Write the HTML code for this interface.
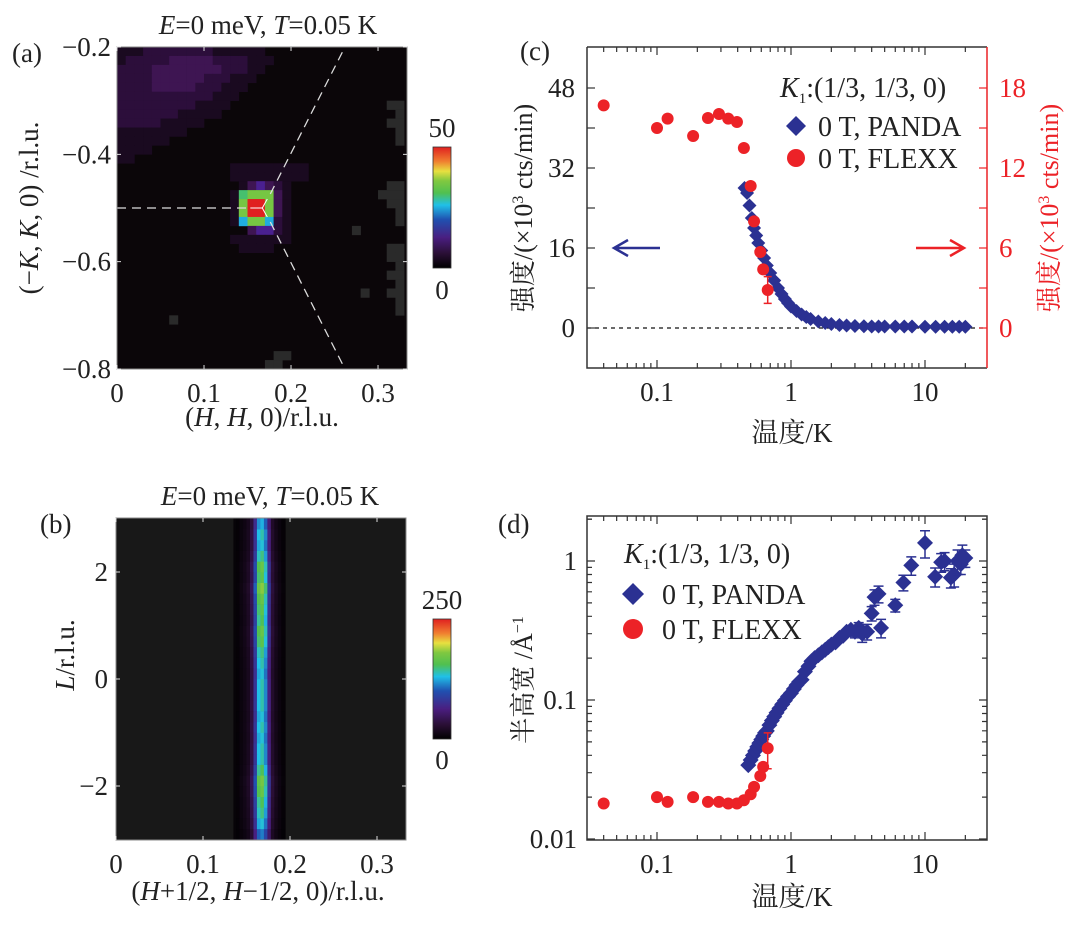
<!DOCTYPE html>
<html><head><meta charset="utf-8">
<style>
html,body{margin:0;padding:0;background:#fff;}
svg{display:block;font-family:"Liberation Serif","Noto Serif CJK SC","Noto Sans CJK SC",serif;}
</style></head>
<body>
<svg id="fig" width="1080" height="926" viewBox="0 0 1080 926" xmlns="http://www.w3.org/2000/svg">
<defs>
<linearGradient id="cbar" x1="0" y1="1" x2="0" y2="0">
<stop offset="0" stop-color="#000000"/><stop offset="0.12" stop-color="#2a0f35"/><stop offset="0.25" stop-color="#4a1e80"/>
<stop offset="0.4" stop-color="#2050b0"/><stop offset="0.52" stop-color="#20c0e8"/><stop offset="0.62" stop-color="#50c050"/>
<stop offset="0.72" stop-color="#80c840"/><stop offset="0.8" stop-color="#e8e040"/><stop offset="0.88" stop-color="#f08030"/><stop offset="1" stop-color="#e02020"/>
</linearGradient>
</defs>
<g id="pa"></g>
<g id="pb"></g>
<g id="pc"></g>
<g id="pd"></g>
</svg>
<script>
// ---------- Panel a data ----------
const aRows = [
"1112222222211111100",
"1222223333322221110",
"2222333333332221100",
"222233333322211100",
"22223333322211100",
"2222222222211100",
"222222222111100",
"22222221111100",
"2222211111000",
"111111110",
"1111110",
"11110",
"110",
"0000000000000111111111",
"0000000000000111111111",
"00000000000000134321",
"00000000000001677731",
"000000000000017AA731",
"000000000000017AA731",
"00000000000001577521",
"000000000000000344210",
"00000000000001111111",
"000000000000001111"
];
const aGrey = [[31,6],[32,6],[32,7],[31,8],[32,8],[32,9],[32,10],[31,15],[32,15],[30,16],[31,16],[32,16],[31,17],[32,17],[32,18],[32,19],[31,22],[32,22],[31,23],[32,23],[32,24],[31,25],[32,25],[32,26],[32,27],[32,28],[32,29],[28,27],[31,27],[6,30],[18,34],[19,34],[17,35],[18,35],[27,20]];
const aXTicks = [0,0.1,0.2,0.3];
const aYTicks = [-0.2,-0.4,-0.6,-0.8];
// ---------- Panel b data ----------
const bOffsets = [-0.027,-0.023,-0.019,-0.015,-0.011,-0.007,-0.003,0.001,0.005,0.009,0.013,0.017,0.021,0.025];
const bProfile = [4,8,12,18,35,80,130,140,115,65,25,14,8,4];
const bLvals = [-2.9,-2.7,-2.5,-2.3,-2.1,-1.9,-1.7,-1.5,-1.3,-1.1,-0.9,-0.7,-0.5,-0.3,-0.1,0.1,0.3,0.5,0.7,0.9,1.1,1.3,1.5,1.7,1.9,2.1,2.3,2.5,2.7,2.9];
const bLmult = [0.8,0.95,1.05,1.1,1.2,1.25,1.1,1.0,1.0,0.95,1.0,0.95,1.0,1.0,1.0,0.95,1.0,1.05,1.15,1.2,1.1,1.15,1.2,1.3,1.15,1.2,1.05,0.95,1.0,0.9];
const bCenter = 0.165;
const bXTicks = [0,0.1,0.2,0.3];
const bYTicks = [2,0,-2];
// ---------- Panel c data ----------
const cRedT = [0.04,0.1,0.12,0.186,0.24,0.29,0.34,0.395,0.445,0.5,0.53,0.59,0.62,0.67];
const cRedI = [16.7,15.0,15.7,14.4,15.75,16.05,15.7,15.45,13.5,10.65,8.0,5.7,4.4,2.85];
const cRedErr = [0,0,0,0,0,0,0,0,0,0,0,0,0,1.0];
const cBlueT = [0.45,0.47,0.49,0.51,0.53,0.55,0.57,0.6,0.63,0.66,0.7,0.75,0.8,0.85,0.9,0.95,1.0,1.1,1.2,1.3,1.4,1.6,1.8,2.0,2.3,2.6,3,3.5,4,4.5,5,6,7,8,10,12,14,16,18,20];
const cBlueI = [28,27,24.5,22,20,18.5,17,15.5,14,12.5,11,9.5,8,6.8,5.8,5,4.3,3.4,2.7,2.2,1.8,1.3,1.0,0.8,0.6,0.5,0.4,0.35,0.3,0.3,0.3,0.3,0.3,0.3,0.25,0.25,0.25,0.25,0.25,0.25];
const cLeftTicks = [0,16,32,48];
const cRightTicks = [0,6,12,18];
const xDecadeLabels = ["0.1","1","10"];
const xDecadeVals = [0.1,1,10];
// ---------- Panel d data ----------
const dRedT = [0.04,0.1,0.12,0.186,0.24,0.29,0.34,0.395,0.445,0.5,0.53,0.59,0.62,0.67];
const dRedW = [0.018,0.020,0.0185,0.020,0.0185,0.0185,0.018,0.018,0.019,0.021,0.0237,0.0284,0.033,0.045];
const dRedErr = [0,0,0,0,0,0,0,0,0,0,0,0,0,0.013];
const dBlueT = [0.48,0.5,0.52,0.54,0.56,0.58,0.6,0.62,0.64,0.66,0.69,0.72,0.75,0.78,0.82,0.86,0.9,0.95,1.0,1.05,1.1,1.15,1.2,1.27,1.35,1.42,1.5,1.6,1.7,1.8,1.9,2.0,2.15,2.3,2.45,2.6,2.8,3.0,3.2,3.4,3.7,4.0,4.2,4.5,4.7,6.0,6.9,7.9,10,11.9,13.2,14,15.6,16.5,17.5,18.5,19,20];
const dBlueW = [0.034,0.037,0.040,0.043,0.046,0.049,0.052,0.055,0.058,0.060,0.066,0.071,0.076,0.081,0.087,0.093,0.099,0.106,0.112,0.12,0.128,0.135,0.14,0.16,0.175,0.19,0.2,0.21,0.22,0.23,0.24,0.25,0.26,0.28,0.29,0.31,0.32,0.31,0.33,0.30,0.31,0.42,0.55,0.58,0.33,0.48,0.70,0.93,1.35,0.77,0.98,1.0,0.76,0.8,1.0,0.95,1.1,1.05];
const dBlueErr = [0,0,0,0,0,0,0,0,0,0,0,0,0,0,0,0,0,0,0,0,0,0,0,0,0,0,0,0,0,0,0,0,0,0,0,0,0,0.03,0.03,0.04,0.04,0.05,0.07,0.08,0.05,0.05,0.09,0.14,0.3,0.12,0.15,0.15,0.12,0.15,0.2,0.15,0.2,0.15];
const dYTicks = [0.01,0.1,1];
const dYLabels = ["0.01","0.1","1"];

const NS="http://www.w3.org/2000/svg";
const FS=27;
function mk(parent,tag,attrs,text){const e=document.createElementNS(NS,tag);for(const k in attrs)e.setAttribute(k,attrs[k]);if(text!==undefined)e.textContent=text;parent.appendChild(e);return e;}
const cmapStops=[[0,[0,0,0]],[0.12,[42,15,53]],[0.25,[74,30,128]],[0.4,[32,80,176]],[0.52,[32,192,232]],[0.62,[80,192,80]],[0.72,[128,200,64]],[0.8,[232,224,64]],[0.88,[240,128,48]],[1,[224,32,32]]];
function cmap(f){f=Math.max(0,Math.min(1,f));for(let i=1;i<cmapStops.length;i++){if(f<=cmapStops[i][0]){const a=cmapStops[i-1],b=cmapStops[i];const t=(f-a[0])/(b[0]-a[0]);const c=a[1].map((v,j)=>Math.round(v+(b[1][j]-v)*t));return `rgb(${c[0]},${c[1]},${c[2]})`;}}return "rgb(224,32,32)";}
function fmt(v){return (v<0?"\u2212":"")+Math.abs(v).toString();}
const lowCols={5:'#1a0a20',10:'#2c0e3b',15:'#3e1552',20:'#4a2090'};

// ===== Panel a =====
(function(){
const g=document.getElementById('pa');
const L=117,R=407,T=47,B=369;
const xa=h=>L+(h-0)*(R-L)/0.3333;
const ya=k=>T+(-0.2-k)*(B-T)/0.6;
const bg=mk(g,'rect',{x:L,y:T,width:R-L,height:B-T,fill:'#0b0609'});

const cw=0.01, ch=0.6/36;
const cells=mk(g,'g',{});

aRows.forEach((row,r)=>{for(let c=0;c<row.length;c++){const ch0=row[c];const v=(ch0==='A'?10:parseInt(ch0,10))*5;if(!v)continue;
 const x0=xa(c*cw),x1=xa((c+1)*cw),y0=ya(-0.2-r*ch),y1=ya(-0.2-(r+1)*ch);
 const fcol=lowCols[v]||cmap(v/50);
 const e=mk(cells,'rect',{x:x0,y:y0,width:Math.min(x1,R)-x0+0.3,height:y1-y0+0.3,fill:fcol});
 }});
aGrey.forEach(([c,r])=>{const x0=xa(c*cw),x1=Math.min(xa((c+1)*cw),R),y0=ya(-0.2-r*ch),y1=ya(-0.2-(r+1)*ch);
 const e=mk(cells,'rect',{x:x0,y:y0,width:x1-x0+0.3,height:y1-y0+0.3,fill:'#2a2a2a'});
 });
const cx=xa(0.167),cy=ya(-0.5);
const d1=mk(g,'path',{d:`M${L} ${cy} L${cx-14} ${cy} M${cx+8} ${cy-14} L${xa(0.262)} ${T} M${cx+8} ${cy+14} L${xa(0.262)} ${B}`,stroke:'#ddd',"stroke-width":1.3,"stroke-dasharray":'9 6',fill:'none'});

const y1=mk(g,'path',{d:`M${cx-12} ${cy} L${cx} ${cy} L${cx+5} ${cy-9} M${cx} ${cy} L${cx+5} ${cy+9}`,stroke:'#fff',"stroke-width":1,fill:'none'});

const fr=mk(g,'rect',{x:L,y:T,width:R-L,height:B-T,fill:'none',stroke:'#888',"stroke-width":1});

aXTicks.forEach(v=>{const x=xa(v);mk(g,'path',{d:`M${x} ${B} V${B-4} M${x} ${T} V${T+4}`,stroke:'#ddd'});
 const t=mk(g,'text',{x:x,y:B+33,"font-size":FS,"text-anchor":'middle',fill:'#222'},v.toString());});
aYTicks.forEach(v=>{const y=ya(v);mk(g,'path',{d:`M${L} ${y} H${L+4} M${R} ${y} H${R-4}`,stroke:'#ddd'});
 const t=mk(g,'text',{x:L-6,y:y+9,"font-size":FS,"text-anchor":'end',fill:'#222'},fmt(v));});
let t=mk(g,'text',{x:268,y:34,"font-size":FS,"text-anchor":'middle',fill:'#222'});t.innerHTML='<tspan font-style="italic">E</tspan>=0 meV, <tspan font-style="italic">T</tspan>=0.05 K';

t=mk(g,'text',{x:12,y:62,"font-size":FS,fill:'#222'},'(a)');
t=mk(g,'text',{x:262,y:426,"font-size":FS,"text-anchor":'middle',fill:'#222'});t.innerHTML='(<tspan font-style="italic">H</tspan>, <tspan font-style="italic">H</tspan>, 0)/r.l.u.';

t=mk(g,'text',{x:0,y:0,"font-size":FS,"text-anchor":'middle',fill:'#222',transform:'translate(38 208) rotate(-90)'});t.innerHTML='(−<tspan font-style="italic">K</tspan>, <tspan font-style="italic">K</tspan>, 0) /r.l.u.';

const cb=mk(g,'rect',{x:433,y:147,width:18,height:121,fill:'url(#cbar)',stroke:'#333',"stroke-width":0.8});
t=mk(g,'text',{x:442,y:137,"font-size":FS,"text-anchor":'middle',fill:'#222'},'50');
t=mk(g,'text',{x:442,y:299,"font-size":FS,"text-anchor":'middle',fill:'#222'},'0');
})();

// ===== Panel b =====
(function(){
const g=document.getElementById('pb');
const L=116,R=406,T=518,B=840;
const xb=h=>L+h*870;
const yb=l=>679-l*53.5;
const bg=mk(g,'rect',{x:L,y:T,width:R-L,height:B-T,fill:'#181818'});
const cells=mk(g,'g',{});
const halo=mk(cells,'rect',{x:xb(bCenter-0.03),y:T,width:xb(bCenter+0.03)-xb(bCenter-0.03),height:B-T,fill:'#070408'});

bLvals.forEach((l,i)=>{bOffsets.forEach((o,j)=>{const v=bProfile[j]*bLmult[i];
 const x0=xb(bCenter+o),x1=xb(bCenter+o+0.004);const y0=Math.max(T,yb(l+0.1)),y1=Math.min(B,yb(l-0.1));
 const e=mk(cells,'rect',{x:x0,y:y0,width:x1-x0+0.3,height:y1-y0+0.3,fill:cmap(v/250)});
 });});
const fr=mk(g,'rect',{x:L,y:T,width:R-L,height:B-T,fill:'none',stroke:'#888'});
bXTicks.forEach(v=>{const x=xb(v);mk(g,'path',{d:`M${x} ${B} V${B-4} M${x} ${T} V${T+4}`,stroke:'#ddd'});
 const t=mk(g,'text',{x:x,y:B+33,"font-size":FS,"text-anchor":'middle',fill:'#222'},v.toString());});
bYTicks.forEach(v=>{const y=yb(v);mk(g,'path',{d:`M${L} ${y} H${L+4} M${R} ${y} H${R-4}`,stroke:'#ddd'});
 const t=mk(g,'text',{x:L-8,y:y+9,"font-size":FS,"text-anchor":'end',fill:'#222'},fmt(v));});
let t=mk(g,'text',{x:270,y:505,"font-size":FS,"text-anchor":'middle',fill:'#222'});t.innerHTML='<tspan font-style="italic">E</tspan>=0 meV, <tspan font-style="italic">T</tspan>=0.05 K';

t=mk(g,'text',{x:40,y:533,"font-size":FS,fill:'#222'},'(b)');
t=mk(g,'text',{x:258,y:900,"font-size":FS,"text-anchor":'middle',fill:'#222'});t.innerHTML='(<tspan font-style="italic">H</tspan>+1/2, <tspan font-style="italic">H</tspan>−1/2, 0)/r.l.u.';

t=mk(g,'text',{x:0,y:0,"font-size":FS,"text-anchor":'middle',fill:'#222',transform:'translate(74 655) rotate(-90)'});t.innerHTML='<tspan font-style="italic">L</tspan>/r.l.u.';

const cb=mk(g,'rect',{x:433,y:619,width:18,height:120,fill:'url(#cbar)',stroke:'#333',"stroke-width":0.8});
t=mk(g,'text',{x:442,y:609,"font-size":FS,"text-anchor":'middle',fill:'#222'},'250');
t=mk(g,'text',{x:442,y:769,"font-size":FS,"text-anchor":'middle',fill:'#222'},'0');
})();

const xl=v=>791+134*Math.log10(v);
function logXAxis(g,T,B){
 for(let d=-2;d<=1;d++){for(let m=1;m<=9;m++){const v=m*Math.pow(10,d);const x=xl(v);if(x<589||x>985)continue;const len=m===1?8:5;
  mk(g,'path',{d:`M${x} ${B} V${B-len} M${x} ${T} V${T+len}`,stroke:'#333',"stroke-width":1.2});}}
 xDecadeVals.forEach((v,i)=>{const t=mk(g,'text',{x:xl(v),y:B+33,"font-size":FS,"text-anchor":'middle',fill:'#222'},xDecadeLabels[i]);});
}
function diamond(g,x,y,s,name){const e=mk(g,'path',{d:`M${x} ${y-s} L${x+s} ${y} L${x} ${y+s} L${x-s} ${y} Z`,fill:'#2b3192'});return e;}
function dot(g,x,y,r,name){const e=mk(g,'circle',{cx:x,cy:y,r:r,fill:'#ec2227'});return e;}

// ===== Panel c =====
(function(){
const g=document.getElementById('pc');
const L=587,R=987,T=47,B=368;
const yL=v=>328-5*v, yR=v=>328-v*80/6;
mk(g,'line',{x1:L,y1:yL(0),x2:R,y2:yL(0),stroke:'#111',"stroke-dasharray":'4 4',"stroke-width":1.2});
cBlueT.forEach((t,i)=>diamond(g,xl(t),yL(cBlueI[i]),7,'panda-point'));
cRedT.forEach((t,i)=>{const x=xl(t),y=yR(cRedI[i]);if(cRedErr[i]){const e=mk(g,'path',{d:`M${x} ${yR(cRedI[i]-cRedErr[i])} V${yR(cRedI[i]+cRedErr[i])} M${x-4} ${yR(cRedI[i]-cRedErr[i])} h8 M${x-4} ${yR(cRedI[i]+cRedErr[i])} h8`,stroke:'#ec2227',"stroke-width":1.5});}
 dot(g,x,y,6,'flexx-point');});
mk(g,'path',{d:`M${L} ${T} H${R} M${L} ${T} V${B} H${R}`,stroke:'#333',"stroke-width":1.5,fill:'none'});
mk(g,'line',{x1:R,y1:T,x2:R,y2:B,stroke:'#ec2227',"stroke-width":1.5});
logXAxis(g,T,B);
[0,8,16,24,32,40,48].forEach(v=>mk(g,'path',{d:`M${L} ${yL(v)} h8`,stroke:'#333',"stroke-width":1.2}));
cLeftTicks.forEach(v=>{const t=mk(g,'text',{x:L-12,y:yL(v)+9,"font-size":FS,"text-anchor":'end',fill:'#222'},v.toString());});
[0,3,6,9,12,15,18].forEach(v=>mk(g,'path',{d:`M${R} ${yR(v)} h-8`,stroke:'#ec2227',"stroke-width":1.2}));
cRightTicks.forEach(v=>{const t=mk(g,'text',{x:R+12,y:yR(v)+9,"font-size":FS,fill:'#ec2227'},v.toString());});
let a=mk(g,'path',{d:`M660 248 H616 M628 240 L614 248 L628 256`,stroke:'#2b3192',"stroke-width":2.5,fill:'none'});
a=mk(g,'path',{d:`M916 248 H962 M950 240 L964 248 L950 256`,stroke:'#ec2227',"stroke-width":2.5,fill:'none'});
let t=mk(g,'text',{x:780,y:97,"font-size":28,fill:'#222'});t.innerHTML='<tspan font-style="italic">K</tspan><tspan font-size="15" dy="6">1</tspan><tspan dy="-6">:(1/3, 1/3, 0)</tspan>';
diamond(g,796,126,10,'legend-panda-marker');
t=mk(g,'text',{x:818,y:136,"font-size":28,fill:'#222'},'0 T, PANDA');
dot(g,796,158,9,'legend-flexx-marker');
t=mk(g,'text',{x:818,y:168,"font-size":28,fill:'#222'},'0 T, FLEXX');
t=mk(g,'text',{x:520,y:60,"font-size":FS,fill:'#222'},'(c)');
t=mk(g,'text',{x:792,y:442,"font-size":FS,"text-anchor":'middle',fill:'#222'},'温度/K');
t=mk(g,'text',{x:0,y:0,"font-size":26,"text-anchor":'middle',fill:'#222',transform:'translate(532 208) rotate(-90)'});t.innerHTML='强度/(×10<tspan font-size="16" dy="-9">3</tspan><tspan dy="9"> cts/min)</tspan>';
t=mk(g,'text',{x:0,y:0,"font-size":26,"text-anchor":'middle',fill:'#ec2227',transform:'translate(1058 208) rotate(-90)'});t.innerHTML='强度/(×10<tspan font-size="16" dy="-9">3</tspan><tspan dy="9"> cts/min)</tspan>';
})();

// ===== Panel d =====
(function(){
const g=document.getElementById('pd');
const L=587,R=987,T=516,B=840;
const yd=v=>700-139*(Math.log10(v)+1);
dBlueT.forEach((tt,i)=>{const x=xl(tt),w=dBlueW[i],e=dBlueErr[i];if(e){const p=mk(g,'path',{d:`M${x} ${yd(w-e)} V${yd(w+e)} M${x-5} ${yd(w-e)} h10 M${x-5} ${yd(w+e)} h10`,stroke:'#2b3192',"stroke-width":1.5});}
 diamond(g,x,yd(w),8,'panda-point');});
dRedT.forEach((tt,i)=>{const x=xl(tt),w=dRedW[i],e=dRedErr[i];if(e){const p=mk(g,'path',{d:`M${x} ${yd(w-e)} V${yd(w+e)} M${x-4} ${yd(w-e)} h8 M${x-4} ${yd(w+e)} h8`,stroke:'#ec2227',"stroke-width":1.5});}
 dot(g,x,yd(w),6,'flexx-point');});
mk(g,'rect',{x:L,y:T,width:R-L,height:B-T,fill:'none',stroke:'#333',"stroke-width":1.5});
logXAxis(g,T,B);
for(let d=-2;d<=0;d++){for(let m=1;m<=9;m++){const v=m*Math.pow(10,d);const y=yd(v);if(y<T+1||y>B)continue;const len=m===1?8:5;
 mk(g,'path',{d:`M${L} ${y} h${len} M${R} ${y} h-${len}`,stroke:'#333',"stroke-width":1.2});}}
mk(g,'path',{d:`M${L} ${yd(2)} h5 M${R} ${yd(2)} h-5`,stroke:'#333',"stroke-width":1.2});
dYTicks.forEach((v,i)=>{const t=mk(g,'text',{x:L-10,y:yd(v)+9,"font-size":FS,"text-anchor":'end',fill:'#222'},dYLabels[i]);});
let t=mk(g,'text',{x:624,y:563,"font-size":28,fill:'#222'});t.innerHTML='<tspan font-style="italic">K</tspan><tspan font-size="15" dy="6">1</tspan><tspan dy="-6">:(1/3, 1/3, 0)</tspan>';
diamond(g,633,594,11,'legend-panda-marker');
t=mk(g,'text',{x:662,y:604,"font-size":28,fill:'#222'},'0 T, PANDA');
dot(g,633,629,10,'legend-flexx-marker');
t=mk(g,'text',{x:662,y:639,"font-size":28,fill:'#222'},'0 T, FLEXX');
t=mk(g,'text',{x:498,y:533,"font-size":FS,fill:'#222'},'(d)');
t=mk(g,'text',{x:792,y:906,"font-size":FS,"text-anchor":'middle',fill:'#222'},'温度/K');
t=mk(g,'text',{x:0,y:0,"font-size":26,"text-anchor":'middle',fill:'#222',transform:'translate(532 680) rotate(-90)'});t.innerHTML='半高宽 /Å<tspan font-size="16" dy="-9">−1</tspan>';
})();
</script>
</body></html>
